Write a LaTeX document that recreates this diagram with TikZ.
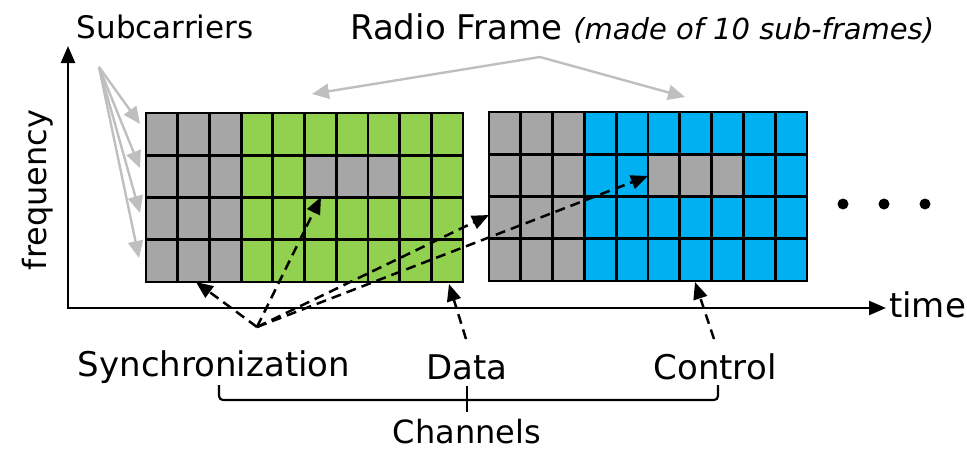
\documentclass[tikz,border=0pt]{standalone}
\usepackage{fontspec}
\setmainfont{DejaVu Sans}
\usetikzlibrary{arrows.meta}
\definecolor{cellgray}{HTML}{A6A6A6}
\definecolor{cellgreen}{HTML}{92D050}
\definecolor{cellblue}{HTML}{00B0F0}
\definecolor{pointer}{HTML}{BFBFBF}

\begin{document}
\begin{tikzpicture}[x=1pt,y=-1pt,
  lbl/.style={font=\fontsize{34}{40}\selectfont, inner sep=0pt},
  cellline/.style={line width=2.8pt, line cap=rect},
  grayarrow/.style={draw=pointer, line width=2.4pt, -{Triangle[length=17pt,width=15pt]}},
  dasharrow/.style={draw=black, line width=2.5pt, dash pattern=on 10pt off 6pt, -{Triangle[length=17pt,width=14pt]}},
  axis/.style={line width=2.4pt, -{Triangle[length=17pt,width=14pt]}}]

\useasboundingbox (0,0) rectangle (967,450);

% axes
\draw[axis] (68,309) -- (68,46);
\draw[axis] (67,308) -- (886,308);
\node[lbl, anchor=west] (time) at (889,305) {time};
\node[lbl, font=\fontsize{32}{38}\selectfont, rotate=90] (freq) at (38,190) {frequency};

% first radio frame: sync + data
\begin{scope}[shift={(146,113)}]
  \fill[cellgreen] (0,0) rectangle (317,169);
  \fill[cellgray] (0,0) rectangle (95.1,169);
  \fill[cellgray] (158.5,42.25) rectangle (253.6,84.5);
  \foreach \i in {0,...,10} \draw[cellline] (\i*31.7,0) -- (\i*31.7,169);
  \foreach \j in {0,...,4} \draw[cellline] (0,\j*42.25) -- (317,\j*42.25);
\end{scope}

% second radio frame: sync + control
\begin{scope}[shift={(489,112)}]
  \fill[cellblue] (0,0) rectangle (318,169);
  \fill[cellgray] (0,0) rectangle (95.4,169);
  \fill[cellgray] (159,42.25) rectangle (254.4,84.5);
  \foreach \i in {0,...,10} \draw[cellline] (\i*31.8,0) -- (\i*31.8,169);
  \foreach \j in {0,...,4} \draw[cellline] (0,\j*42.25) -- (318,\j*42.25);
\end{scope}

% continuation dots
\foreach \x in {843,884,925} \fill (\x,204) circle (5.5);

% titles
\node[lbl, font=\fontsize{31}{36}\selectfont] (sub) at (165,27) {Subcarriers};
\node[lbl, anchor=west] (radio) at (350,28) {Radio Frame \itshape\fontsize{29}{34}\selectfont(made of 10 sub-frames)};

% subcarrier pointers
\coordinate (subfan) at (99,67);
\foreach \y/\x in {124/140,168/140,213/140,258/139} {
  \coordinate (row) at (\x,\y);
  \draw[grayarrow] (subfan) -- (row);
}

% radio frame pointers
\coordinate (rfapex) at (540,57);
\coordinate (rfleft) at (312,94);
\coordinate (rfright) at (685,97);
\draw[grayarrow] (rfapex) -- (rfleft);
\draw[grayarrow] (rfapex) -- (rfright);

% channel labels
\node[lbl] (sync) at (214,367) {Synchronization};
\node[lbl] (data) at (467,367) {Data};
\node[lbl] (ctrl) at (715,367) {Control};
\node[lbl, font=\fontsize{32}{38}\selectfont] (chan) at (467,432) {Channels};

% synchronization pointers
\coordinate (synchub) at (257,327);
\coordinate (s1) at (196,282);
\coordinate (s2) at (321,197);
\coordinate (s3) at (489,215);
\coordinate (s4) at (648,176);
\draw[dasharrow] (synchub) -- (s1);
\draw[dasharrow] (synchub) -- (s2);
\draw[dasharrow] (synchub) -- (s3);
\draw[dasharrow] (synchub) -- (s4);

% data and control pointers
\coordinate (dtail) at (466,339);
\coordinate (dtip) at (449,284);
\coordinate (ctail) at (714,339);
\coordinate (ctip) at (695,282);
\draw[dasharrow] (dtail) -- (dtip);
\draw[dasharrow] (ctail) -- (ctip);

% channels brace
\draw[line width=2.2pt, rounded corners=4pt] (219,385) -- (219,400) -- (718,400) -- (718,385);
\draw[line width=2.2pt] (467,386) -- (467,412);
\end{tikzpicture}
\end{document}
